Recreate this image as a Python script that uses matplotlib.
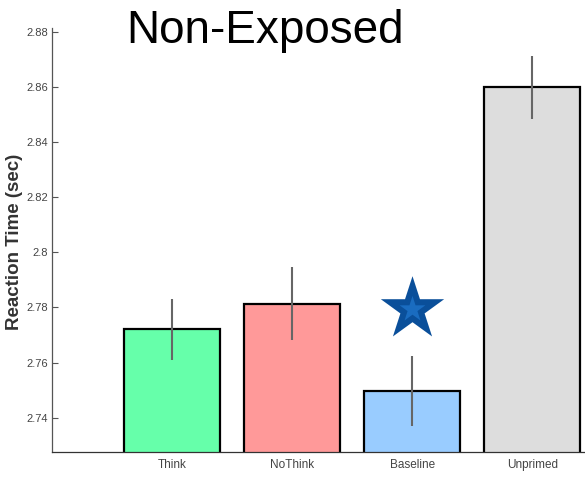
import matplotlib
matplotlib.use("Agg")
import matplotlib.pyplot as plt

categories = ["Think", "NoThink", "Baseline", "Unprimed"]
means = [2.772, 2.7813, 2.7497, 2.860]
errors = [0.011, 0.0133, 0.0126, 0.0115]
colors = ["#66ffaa", "#ff9999", "#99ccff", "#dddddd"]
yticks = [2.74, 2.76, 2.78, 2.80, 2.82, 2.84, 2.86, 2.88]
ytick_labels = ["2.74", "2.76", "2.78", "2.8", "2.82", "2.84", "2.86", "2.88"]
star_category = 2
star_value = 2.7795

W, H = 585, 478
fig = plt.figure(figsize=(W / 100, H / 100), dpi=100)
ax = fig.add_axes([52 / W, 1 - 452 / H, (W - 52) / W, (452 - 28) / H])

x = list(range(len(categories)))
ax.bar(x, means, width=0.8, color=colors, edgecolor="black", linewidth=1.6, zorder=2)
ax.errorbar(x, means, yerr=errors, fmt="none", ecolor="#666666", elinewidth=1.5, capsize=0, zorder=3)

ax.scatter([star_category], [star_value], marker="*", s=2300, color="#0a4f9a", zorder=4, linewidths=0)
ax.scatter([star_category], [star_value], marker="*", s=380, color="#1a6cc0", zorder=5, linewidths=0)

ax.set_xlim(-1.0, 3.44)
ax.set_ylim(2.7275, 2.8815)
ax.set_yticks(yticks)
ax.set_yticklabels(ytick_labels, family="Liberation Sans", fontsize=8, color="#444444")
ax.set_xticks(x)
ax.set_xticklabels(categories, family="Liberation Sans", fontsize=8.5, color="#444444")
ax.tick_params(axis="y", direction="in", length=4, width=0.8, color="#555555", pad=3)
ax.tick_params(axis="x", length=0, pad=5)

for side in ["top", "right"]:
    ax.spines[side].set_visible(False)
ax.spines["left"].set_color("#555555")
ax.spines["left"].set_linewidth(0.9)
ax.spines["bottom"].set_color("#333333")
ax.spines["bottom"].set_linewidth(0.9)

fig.text(15 / W, 1 - 242 / H, "Reaction Time (sec)", family="Liberation Sans", fontweight="bold",
         fontsize=13.5, color="#333333", rotation=90, ha="center", va="center")

fig.text(265 / W, 1 - 31 / H, "Non-Exposed", family="Liberation Sans", fontsize=33, ha="center", va="center", color="black")

fig.savefig("out.png", dpi=100)
